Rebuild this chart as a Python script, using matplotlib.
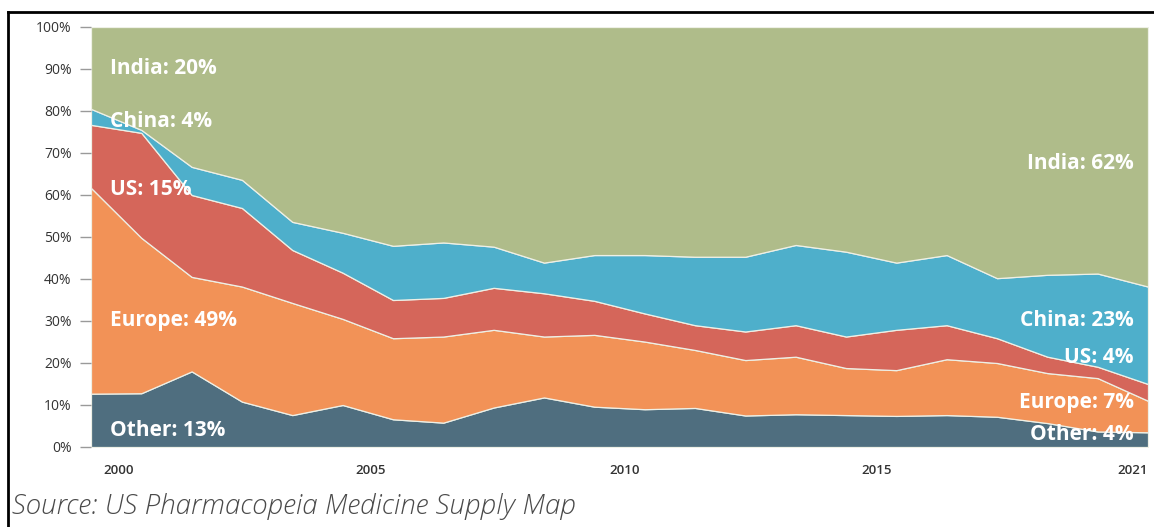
import matplotlib
matplotlib.use("Agg")
import matplotlib.pyplot as plt
from matplotlib.lines import Line2D
import numpy as np

# Share of API manufacturing facilities by region (%)
years = list(range(2000, 2022))
other = [12.7, 12.8, 18.0, 10.8, 7.6, 10.0, 6.6, 5.8, 9.4, 11.8, 9.6,
         9.0, 9.3, 7.5, 7.8, 7.6, 7.4, 7.6, 7.2, 5.7, 3.7, 3.5]
europe = [49.0, 37.0, 22.5, 27.4, 26.7, 20.5, 19.3, 20.5, 18.5, 14.5, 17.1,
          16.1, 13.8, 13.2, 13.7, 11.2, 10.9, 13.3, 12.8, 11.9, 12.7, 7.5]
us = [15.0, 25.0, 19.5, 18.7, 12.6, 11.0, 9.1, 9.2, 10.0, 10.3, 8.1,
      6.7, 5.9, 6.8, 7.5, 7.5, 9.6, 8.1, 5.9, 3.9, 2.7, 4.0]
china = [3.8, 0.7, 6.7, 6.7, 6.7, 9.5, 12.9, 13.2, 9.8, 7.3, 10.9,
         13.9, 16.3, 17.8, 19.1, 20.2, 16.0, 16.7, 14.3, 19.5, 22.2, 23.2]
india = [19.5, 24.5, 33.3, 36.4, 46.4, 49.0, 52.1, 51.3, 52.3, 56.1, 54.3,
         54.3, 54.7, 54.7, 51.9, 53.5, 56.1, 54.3, 59.8, 59.0, 58.7, 61.8]

names = ["Other", "Europe", "US", "China", "India"]
colors = ["#4f6e7f", "#f29257", "#d5665a", "#4eafcb", "#afbc8a"]
start_labels = ["Other: 13%", "Europe: 49%", "US: 15%", "China: 4%", "India: 20%"]
end_labels = ["Other: 4%", "Europe: 7%", "US: 4%", "China: 23%", "India: 62%"]
start_label_y = [4.0, 30.2, 61.2, 77.4, 90.2]
end_label_y = [2.9, 10.7, 21.2, 30.2, 67.6]

xtick_pos = [2000.55, 2005.55, 2010.6, 2015.6, 2020.7]
xtick_labels = ["2000", "2005", "2010", "2015", "2021"]

FONT = "Open Sans"

fig = plt.figure(figsize=(11.54, 5.27), dpi=100)
ax = fig.add_axes([91 / 1154, 80 / 527, 1057 / 1154, 420 / 527])

ax.stackplot(years, other, europe, us, china, india, colors=colors,
             edgecolor="#eef0e6", linewidth=0.9)

ax.set_xlim(2000, 2021)
ax.set_ylim(0, 100)

# y axis
ax.set_yticks(np.arange(0, 101, 10))
ax.set_yticklabels([f"{v}%" for v in range(0, 101, 10)],
                   fontsize=10, color="#333333", family=FONT)
ax.tick_params(axis="y", length=8, width=1, color="#9a9a9a", pad=6)

# x axis
ax.set_xticks(xtick_pos)
ax.set_xticklabels(xtick_labels, fontsize=9.5, color="#333333",
                   family=FONT, fontweight="semibold")
ax.tick_params(axis="x", length=0, pad=12)

for s in ax.spines.values():
    s.set_visible(False)

# Series labels
for lab, y in zip(start_labels, start_label_y):
    ax.text(2000.38, y, lab, color="white", fontsize=15, fontweight="bold",
            family=FONT, ha="left", va="center")
for lab, y in zip(end_labels, end_label_y):
    ax.text(2020.72, y, lab, color="white", fontsize=15, fontweight="bold",
            family=FONT, ha="right", va="center")

# Source note
fig.text(12 / 1154, 1 - 507 / 527, "Source: US Pharmacopeia Medicine Supply Map",
         fontsize=20, color="#4a4a4a", family=FONT, fontweight="light",
         style="italic", ha="left", va="center")

# Frame around the picture
fig.add_artist(Line2D([8 / 1154, 1], [1 - 12 / 527, 1 - 12 / 527],
                      color="black", linewidth=2, transform=fig.transFigure))
fig.add_artist(Line2D([8 / 1154, 8 / 1154], [0, 1 - 12 / 527],
                      color="black", linewidth=2, transform=fig.transFigure))

fig.savefig("out.png", dpi=100)
